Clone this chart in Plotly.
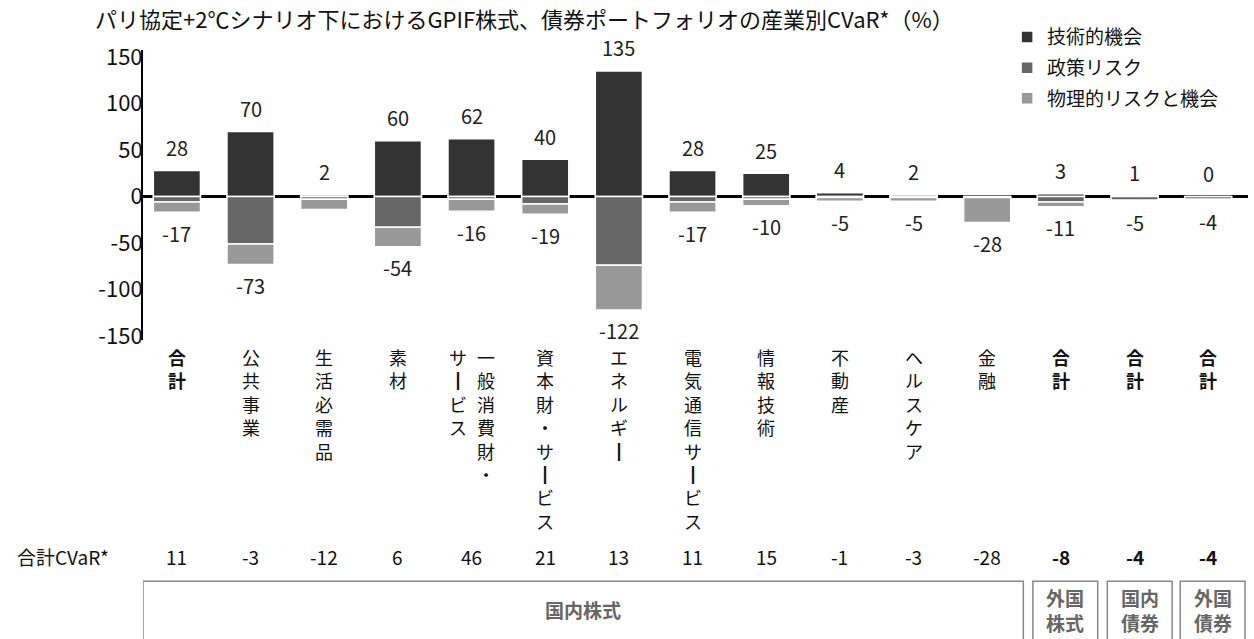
import plotly.graph_objects as go

# ---------------- data ----------------
cat_keys = ["国内株式_合計", "公共事業", "生活必需品", "素材", "一般消費財・サービス",
            "資本財・サービス", "エネルギー", "電気通信サービス", "情報技術", "不動産",
            "ヘルスケア", "金融", "外国株式_合計", "国内債券_合計", "外国債券_合計"]
cat_labels = ["合計", "公共事業", "生活必需品", "素材", "一般消費財・|サービス",
              "資本財・サービス", "エネルギー", "電気通信サービス", "情報技術", "不動産",
              "ヘルスケア", "金融", "合計", "合計", "合計"]
tech = [28, 70, 2, 60, 62, 40, 135, 28, 25, 4, 2, 0, 3, 1, 0]
policy = [-6, -51, -3, -33, -3, -8, -74, -6, -3, -1, -1, -1, -6, -4, -3]
physical = [-11, -22, -11, -21, -13, -11, -48, -11, -7, -4, -4, -27, -5, -1, -1]
pos_labels = ["28", "70", "2", "60", "62", "40", "135", "28", "25", "4", "2", "", "3", "1", "0"]
neg_labels = ["-17", "-73", "", "-54", "-16", "-19", "-122", "-17", "-10", "-5", "-5", "-28", "-11", "-5", "-4"]
total_cvar = ["11", "-3", "-12", "6", "46", "21", "13", "11", "15", "-1", "-3", "-28", "-8", "-4", "-4"]
yticks = [150, 100, 50, 0, -50, -100, -150]
ytick_text = ["150", "100", "50", "0", "-50", "-100", "-150"]
series_names = ["技術的機会", "政策リスク", "物理的リスクと機会"]
groups = ["国内株式", "外国<br>株式", "国内<br>債券", "外国<br>債券"]

FONT = "Noto Sans CJK JP, Noto Sans, sans-serif"
colors = ["#333333", "#666666", "#999999"]

fig = go.Figure()
for name, vals, col in zip(series_names, [tech, policy, physical], colors):
    fig.add_trace(go.Bar(x=cat_keys, y=vals, name=name, legendgroup=name,
                         marker=dict(color=col, line=dict(color="white", width=1.5))))

ann = []
bold_idx = {0, 12, 13, 14}
for i, k in enumerate(cat_keys):
    if pos_labels[i]:
        ann.append(dict(x=k, y=tech[i], xref="x", yref="y", text=pos_labels[i],
                        showarrow=False, yshift=23, yanchor="middle",
                        font=dict(size=20, color="#222", family=FONT)))
    if neg_labels[i]:
        ann.append(dict(x=k, y=policy[i] + physical[i], xref="x", yref="y", text=neg_labels[i],
                        showarrow=False, yshift=-21, yanchor="middle",
                        font=dict(size=20, color="#222", family=FONT)))
    # vertical category labels
    lab = cat_labels[i]
    cols = lab.split("|")
    shifts = [0] if len(cols) == 1 else [14, -14]
    for col_txt, xs in zip(cols, shifts):
        txt = "<br>".join(ch if ch != "ー" else "┃" for ch in col_txt)
        if i in bold_idx:
            txt = "<b>" + txt + "</b>"
        ann.append(dict(x=k, y=-0.006, xref="x", yref="paper", text=txt, showarrow=False,
                        xshift=xs, yanchor="top", font=dict(size=18, color="#111", family=FONT)))
    # total CVaR row
    tv = total_cvar[i]
    if i in {12, 13, 14}:
        tv = "<b>" + tv + "</b>"
    ann.append(dict(x=k, y=-0.746, xref="x", yref="paper", text=tv, showarrow=False,
                    yanchor="middle", font=dict(size=19, color="#111", family=FONT)))

ann.append(dict(x=-0.116, y=-0.746, xref="paper", yref="paper", text="合計CVaR*", showarrow=False,
                xanchor="left", yanchor="middle", font=dict(size=19, color="#111", family=FONT)))
ann.append(dict(x=-0.045, y=1.112, xref="paper", yref="paper",
                text="パリ協定+2℃シナリオ下におけるGPIF株式、債券ポートフォリオの産業別CVaR*（%）",
                showarrow=False, xanchor="left", yanchor="middle",
                font=dict(size=22, color="#111", family=FONT)))

# group boxes
box_x = [(-0.46, 11.49), (11.62, 12.50), (12.63, 13.51), (13.62, 14.50)]
shapes = []
for (x0, x1), g in zip(box_x, groups):
    shapes.append(dict(type="rect", xref="x", yref="paper", x0=x0, x1=x1, y0=-1.1, y1=-0.832,
                       line=dict(color="#888", width=1.5), fillcolor="rgba(0,0,0,0)"))
    ann.append(dict(x=(x0 + x1) / 2, y=-0.93, xref="x", yref="paper", text="<b>" + g + "</b>",
                    showarrow=False, yanchor="middle",
                    font=dict(size=19, color="#666", family=FONT)))

fig.update_layout(
    width=1254, height=639, autosize=False,
    margin=dict(l=143, r=6, t=50, b=299),
    paper_bgcolor="white", plot_bgcolor="white",
    barmode="relative", bargap=0.36,
    font=dict(family=FONT, color="#111"),
    showlegend=True,
    legend=dict(x=0.782, y=1.11, xanchor="left", yanchor="top", tracegroupgap=3,
                font=dict(size=19, family=FONT, color="#111"), bgcolor="rgba(0,0,0,0)"),
    annotations=ann, shapes=shapes,
)
fig.update_xaxes(range=[-0.46, 14.54], showticklabels=False, showline=False, showgrid=False,
                 zeroline=False, ticks="")
fig.update_yaxes(range=[-154.3, 157.5], tickvals=yticks, ticktext=ytick_text,
                 showgrid=False, showline=True, linecolor="black", linewidth=2,
                 zeroline=True, zerolinecolor="black", zerolinewidth=2.5,
                 tickfont=dict(size=22, color="#111", family=FONT), ticks="",
                 ticklabelstandoff=-6)

fig.write_html("out.html")
